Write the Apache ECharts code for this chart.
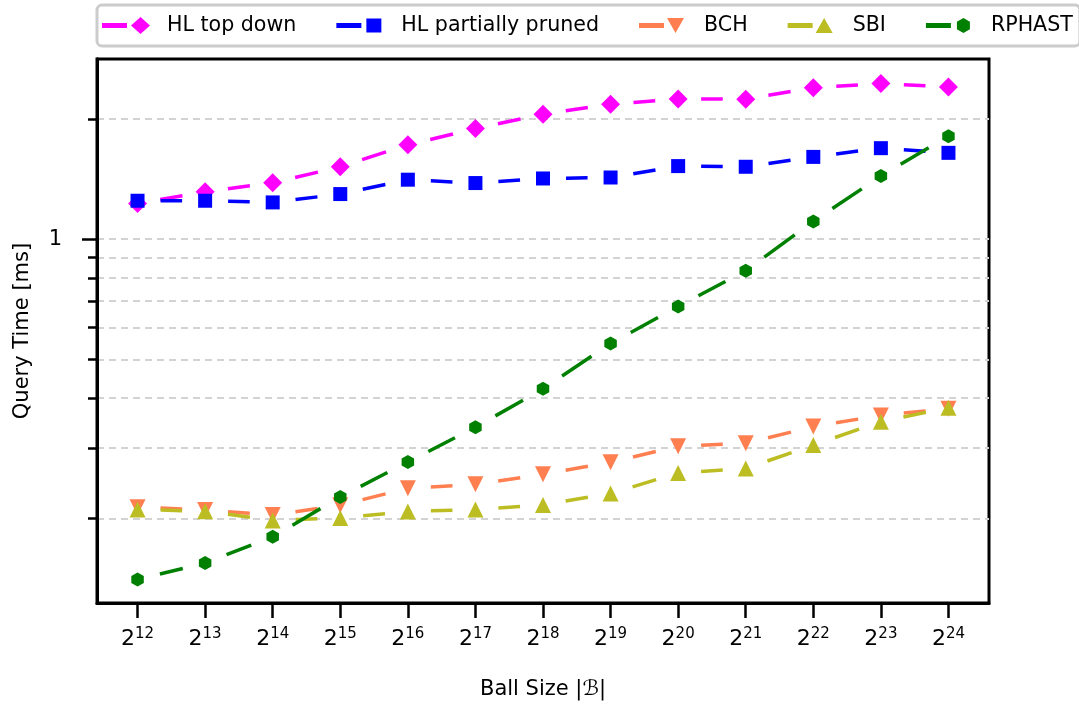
<!DOCTYPE html>
<html><head><meta charset="utf-8">
<script src="https://cdn.jsdelivr.net/npm/echarts@6/dist/echarts.min.js"></script>
<style>html,body{margin:0;padding:0;background:#fff}#c{width:1079px;height:707px}</style>
</head><body><div id="c"></div>
<script>
// x categories: exponent of ball size (2^n)
const exponents = [12, 13, 14, 15, 16, 17, 18, 19, 20, 21, 22, 23, 24];
// Query time [ms]
const hlTopDown = [1.229, 1.314, 1.384, 1.518, 1.723, 1.892, 2.056, 2.178, 2.245, 2.241, 2.396, 2.452, 2.405];
const hlPartiallyPruned = [1.248, 1.248, 1.236, 1.297, 1.409, 1.382, 1.419, 1.427, 1.524, 1.518, 1.607, 1.690, 1.645];
const bch = [0.2132, 0.2099, 0.2037, 0.2157, 0.2378, 0.2433, 0.2577, 0.2763, 0.3030, 0.3083, 0.3393, 0.3620, 0.3763];
const sbi = [0.2104, 0.2083, 0.1975, 0.2004, 0.2080, 0.2104, 0.2160, 0.2307, 0.2597, 0.2664, 0.3051, 0.3491, 0.3784];
const rphast = [0.1406, 0.1545, 0.1797, 0.2262, 0.2767, 0.338, 0.422, 0.548, 0.678, 0.834, 1.108, 1.439, 1.811];
const seriesNames = ['HL top down', 'HL partially pruned', 'BCH', 'SBI', 'RPHAST'];
const yMinorTicks = [0.2, 0.3, 0.4, 0.5, 0.6, 0.7, 0.8, 0.9, 1, 2];
const yMajorTicks = [1];
const yMajorLabels = ['1'];

const FONT = 'DejaVu Sans';
const colors = ['#ff00ff', '#0000ff', '#ff7f50', '#bcbd22', '#008000'];
const hexPath = 'path://M0,-1 L0.866,-0.5 L0.866,0.5 L0,1 L-0.866,0.5 L-0.866,-0.5 Z';
const lineBar = 'M0,0 M60,20 M0,7.5 L25,7.5 L25,12.5 L0,12.5 Z ';
const legendIcons = [
  'path://' + lineBar + 'M38.5,1.5 L48,10 L38.5,18.5 L29,10 Z',
  'path://' + lineBar + 'M30,3 L45,3 L45,17 L30,17 Z',
  'path://' + lineBar + 'M28,2.5 L45,2.5 L36.5,17.5 Z',
  'path://' + lineBar + 'M36.5,2.5 L45,17.5 L28,17.5 Z',
  'path://' + lineBar + 'M37.5,2.5 L44,6.25 L44,13.75 L37.5,17.5 L31,13.75 L31,6.25 Z'
];
const symbols = [
  {symbol: 'diamond', symbolSize: 19},
  {symbol: 'rect', symbolSize: 14},
  {symbol: 'triangle', symbolSize: 16, symbolRotate: 180},
  {symbol: 'triangle', symbolSize: 16},
  {symbol: hexPath, symbolSize: [12.5, 14]}
];
const allData = [hlTopDown, hlPartiallyPruned, bch, sbi, rphast];

const GAP = 23;
const series = [];
allData.forEach((vals, i) => {
  const segs = [];
  for (let j = 0; j < vals.length - 1; j++) segs.push([exponents[j], vals[j], exponents[j + 1], vals[j + 1]]);
  series.push({
    name: seriesNames[i], type: 'custom', yAxisIndex: 0, z: 2 + 2 * i, silent: true,
    itemStyle: {color: colors[i]},
    encode: {x: [0, 2], y: [1, 3]},
    data: segs,
    renderItem: (params, api) => {
      const p0 = api.coord([api.value(0), api.value(1)]);
      const p1 = api.coord([api.value(2), api.value(3)]);
      const dx = p1[0] - p0[0], dy = p1[1] - p0[1];
      const L = Math.hypot(dx, dy);
      if (L <= 2 * GAP) return null;
      const ux = dx / L, uy = dy / L;
      return {type: 'line',
        shape: {x1: p0[0] + ux * GAP, y1: p0[1] + uy * GAP, x2: p1[0] - ux * GAP, y2: p1[1] - uy * GAP},
        style: {stroke: colors[i], lineWidth: 3.5, lineCap: 'butt'}};
    }
  });
  series.push(Object.assign({
    name: seriesNames[i], type: 'scatter', yAxisIndex: 0, z: 3 + 2 * i,
    data: vals.map((v, j) => [exponents[j], v]),
    itemStyle: {color: colors[i], opacity: 1}
  }, symbols[i]));
});

const chart = echarts.init(document.getElementById('c'), null, {renderer: 'canvas'});
chart.setOption({
  animation: false,
  backgroundColor: '#fff',
  textStyle: {fontFamily: FONT},
  grid: {left: 97, right: 90, top: 59, bottom: 104, show: true, borderColor: '#000', borderWidth: 3},
  legend: {
    left: 97, top: 5, width: 975,
    padding: [10, 7, 10, 5],
    itemWidth: 60, itemHeight: 20, itemGap: 40,
    borderColor: '#cccccc', borderWidth: 3, borderRadius: 5, backgroundColor: '#fff',
    textStyle: {fontSize: 20.6, color: '#000', fontFamily: FONT},
    itemStyle: {borderWidth: 0},
    data: seriesNames.map((n, i) => ({name: n, icon: legendIcons[i], itemStyle: {color: colors[i]}}))
  },
  xAxis: {
    type: 'value', min: 11.4, max: 24.6,
    axisLine: {show: true, onZero: false, lineStyle: {color: '#000', width: 3}},
    axisTick: {show: true, customValues: exponents, length: 15, lineStyle: {color: '#000', width: 2.5}},
    axisLabel: {
      customValues: exponents, margin: 24, color: '#000',
      formatter: v => '{b|2}{s|' + v + '}',
      rich: {
        b: {fontSize: 22, fontFamily: FONT, color: '#000'},
        s: {fontSize: 15, fontFamily: FONT, color: '#000', padding: [0, 0, 10, 0]}
      }
    },
    splitLine: {show: false},
    name: 'Ball Size |ℬ|', nameLocation: 'middle', nameGap: 76,
    nameTextStyle: {fontSize: 21, color: '#000', fontFamily: FONT}
  },
  yAxis: [
    {
      type: 'log', logBase: 10, min: 0.1227, max: 2.826,
      axisLine: {show: true, onZero: false, lineStyle: {color: '#000', width: 3}},
      axisTick: {show: true, customValues: yMinorTicks, length: 9, lineStyle: {color: '#000', width: 2.5}},
      axisLabel: {show: false},
      splitLine: {show: true, lineStyle: {color: '#d3d3d3', width: 2, type: [7, 5]}}
    },
    {
      type: 'log', logBase: 10, min: 0.1227, max: 2.826, position: 'left',
      axisLine: {show: true, onZero: false, lineStyle: {color: '#000', width: 3}},
      axisTick: {show: true, customValues: yMajorTicks, length: 15, lineStyle: {color: '#000', width: 2.5}},
      axisLabel: {customValues: yMajorTicks, margin: 35, fontSize: 21, color: '#000', fontFamily: FONT,
        formatter: v => yMajorLabels[yMajorTicks.indexOf(v)] ?? ''},
      splitLine: {show: false},
      name: 'Query Time [ms]', nameLocation: 'middle', nameGap: 64,
      nameTextStyle: {fontSize: 21, color: '#000', fontFamily: FONT}
    }
  ],
  series: series
});
</script></body></html>
